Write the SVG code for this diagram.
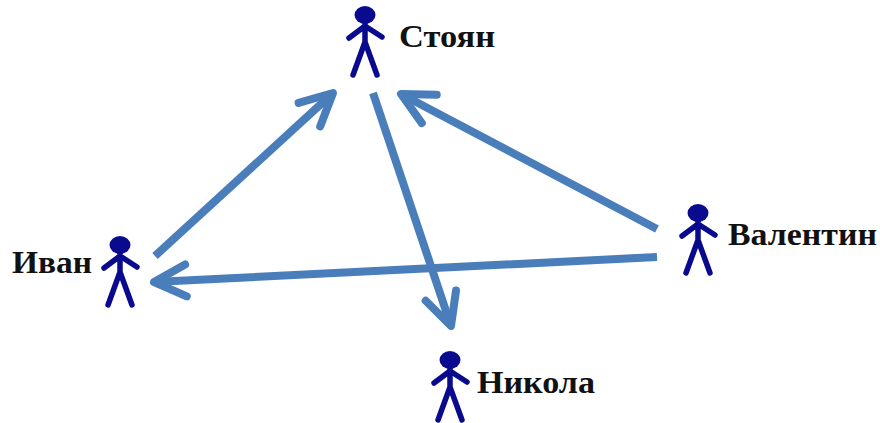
<svg xmlns="http://www.w3.org/2000/svg" width="880" height="423" viewBox="0 0 880 423">
<style>
.lbl{font-family:"Liberation Serif","Times New Roman",serif;font-weight:bold;font-size:31px;fill:#111}
.arr{fill:none;stroke:#4a7ebb;stroke-width:8;stroke-linecap:butt}
</style>
<defs>
<marker id="ah" markerUnits="userSpaceOnUse" viewBox="-45 -25 55 50" markerWidth="55" markerHeight="50" refX="0" refY="0" orient="auto">
<path d="M-32 -16 L0 0 L-32 16" fill="none" stroke="#4a7ebb" stroke-width="8" stroke-linecap="round" stroke-linejoin="round"/>
</marker>
<g id="person">
<ellipse cx="0" cy="0" rx="10.5" ry="9" fill="#0a0a8f"/>
<path d="M0 7 V27 M-16 23 L0 11 L17 22 M-12 60 L0 27 L12 60" fill="none" stroke="#0a0a8f" stroke-width="5.5" stroke-linecap="round" stroke-linejoin="round"/>
</g>
</defs>
<rect width="880" height="423" fill="#fff"/>
<g id="connectors">
<path class="arr" d="M155 256 L333 93" marker-end="url(#ah)"/>
<path class="arr" d="M373 93 L451 326" marker-end="url(#ah)"/>
<path class="arr" d="M657 229 L401 94" marker-end="url(#ah)"/>
<path class="arr" d="M657 257 L154 282" marker-end="url(#ah)"/>
</g>
<g id="stoyan">
<use href="#person" x="365" y="15"/>
<text class="lbl" x="399" y="47" textLength="96" lengthAdjust="spacingAndGlyphs">Стоян</text>
</g>
<g id="ivan">
<use href="#person" x="120" y="245"/>
<text class="lbl" x="12" y="273" textLength="80" lengthAdjust="spacingAndGlyphs">Иван</text>
</g>
<g id="valentin">
<use href="#person" x="698" y="213"/>
<text class="lbl" x="728" y="245" textLength="149" lengthAdjust="spacingAndGlyphs">Валентин</text>
</g>
<g id="nikola">
<use href="#person" x="450" y="360"/>
<text class="lbl" x="477" y="393" textLength="118" lengthAdjust="spacingAndGlyphs">Никола</text>
</g>
</svg>
